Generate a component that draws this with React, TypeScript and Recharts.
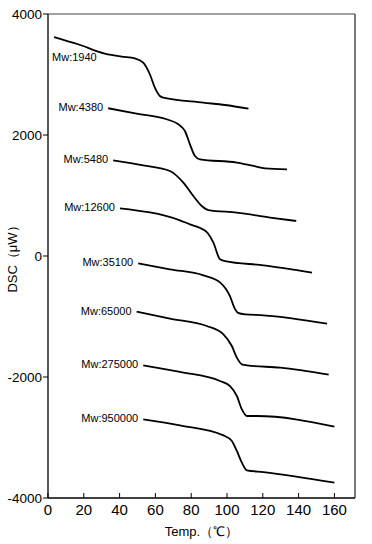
import { LineChart, Line, XAxis, YAxis, ReferenceLine } from "recharts";

// DSC traces, temperature (°C) vs heat flow (µW)
const mw1940 = [
  { t: 3.4, v: 3620 }, { t: 16.8, v: 3500 }, { t: 31.7, v: 3346 }, { t: 41.1, v: 3296 },
  { t: 48.5, v: 3268 }, { t: 53.2, v: 3197 }, { t: 56.9, v: 3004 }, { t: 59.7, v: 2784 },
  { t: 62.5, v: 2645 }, { t: 64.4, v: 2618 }, { t: 86.8, v: 2536 }, { t: 98.9, v: 2496 },
  { t: 112, v: 2436 },
];
const mw4380 = [
  { t: 33.6, v: 2442 }, { t: 49.5, v: 2354 }, { t: 66.3, v: 2260 }, { t: 72.8, v: 2177 },
  { t: 76.5, v: 2066 }, { t: 79.3, v: 1846 }, { t: 82.1, v: 1653 }, { t: 84.9, v: 1598 },
  { t: 105.5, v: 1544 }, { t: 114.8, v: 1488 }, { t: 121.3, v: 1450 }, { t: 133.5, v: 1433 },
];
const mw5480 = [
  { t: 36.4, v: 1582 }, { t: 53.2, v: 1499 }, { t: 68.1, v: 1405 }, { t: 75.6, v: 1213 },
  { t: 81.2, v: 992 }, { t: 85.9, v: 826 }, { t: 89.6, v: 760 }, { t: 105.5, v: 717 },
  { t: 124.1, v: 635 }, { t: 138.7, v: 579 },
];
const mw12600 = [
  { t: 40.2, v: 788 }, { t: 73.7, v: 590 }, { t: 79.3, v: 524 }, { t: 85, v: 462 },
  { t: 89.2, v: 380 }, { t: 92.4, v: 221 }, { t: 96.1, v: -55 }, { t: 98.9, v: -83 },
  { t: 120.4, v: -154 }, { t: 147.5, v: -274 },
];
const mw35100 = [
  { t: 50.4, v: -121 }, { t: 68.1, v: -220 }, { t: 86.8, v: -319 }, { t: 96.1, v: -435 },
  { t: 99.5, v: -550 }, { t: 101.7, v: -666 }, { t: 104, v: -848 }, { t: 106.2, v: -939 },
  { t: 110.1, v: -964 }, { t: 120.4, v: -980 }, { t: 155.9, v: -1117 },
];
const mw65000 = [
  { t: 49.5, v: -919 }, { t: 68.1, v: -1035 }, { t: 88.7, v: -1157 }, { t: 98, v: -1294 },
  { t: 102.7, v: -1488 }, { t: 105.5, v: -1680 }, { t: 108.3, v: -1790 }, { t: 111.1, v: -1807 },
  { t: 129.7, v: -1845 }, { t: 156.8, v: -1960 },
];
const mw275000 = [
  { t: 53.2, v: -1807 }, { t: 73.7, v: -1917 }, { t: 96.1, v: -2066 }, { t: 101.7, v: -2149 },
  { t: 105.5, v: -2314 }, { t: 108.3, v: -2534 }, { t: 111.1, v: -2645 }, { t: 116.7, v: -2645 },
  { t: 160, v: -2820 },
];
const mw950000 = [
  { t: 53.2, v: -2699 }, { t: 73.7, v: -2799 }, { t: 98, v: -2964 }, { t: 102.7, v: -3058 },
  { t: 105.5, v: -3223 }, { t: 108.3, v: -3415 }, { t: 111.1, v: -3542 }, { t: 120.4, v: -3571 },
  { t: 160, v: -3746 },
];

const seriesNames = ["Mw:1940", "Mw:4380", "Mw:5480", "Mw:12600", "Mw:35100", "Mw:65000", "Mw:275000", "Mw:950000"];
const seriesData = [mw1940, mw4380, mw5480, mw12600, mw35100, mw65000, mw275000, mw950000];

const xTicks = [0, 20, 40, 60, 80, 100, 120, 140, 160];
const yTicks = [-4000, -2000, 0, 2000, 4000];
const xMax = 171.5;

const FONT = "'Liberation Sans', Arial, sans-serif";

const XTick = ({ x, y, payload }: any) => (
  <g>
    <line x1={x} y1={y} x2={x} y2={y - 5} stroke="#000" strokeWidth={1} />
    <text x={x} y={y + 13} textAnchor="middle" dominantBaseline="middle" fontSize={15} fontFamily={FONT} fill="#000">
      {payload.value}
    </text>
  </g>
);

// name sits left of the trace start (first one sits underneath)
const makeLabel = (name: string, below: boolean) => (props: any) => {
  if (props.index !== 0) return null;
  return below ? (
    <text x={props.x - 2} y={props.y + 21} dominantBaseline="middle" fontSize={11} fontFamily={FONT} fill="#000">
      {name}
    </text>
  ) : (
    <text x={props.x - 5} y={props.y} textAnchor="end" dominantBaseline="middle" fontSize={11} fontFamily={FONT} fill="#000">
      {name}
    </text>
  );
};

export default function App() {
  return (
    <div style={{ position: "absolute", left: 0, top: 0, background: "#fff" }}>
      <LineChart width={372} height={544} margin={{ top: 14, right: 17, bottom: 0, left: 0 }}>
        <XAxis
          dataKey="t"
          type="number"
          domain={[0, xMax]}
          ticks={xTicks}
          height={46}
          tickSize={0}
          tickMargin={0}
          tick={<XTick />}
          axisLine={{ stroke: "#000", strokeWidth: 1.3 }}
          allowDataOverflow
          label={{ value: "Temp.（℃）", position: "insideBottom", offset: 8, fontSize: 13, fontFamily: FONT, fill: "#000" }}
        />
        <YAxis
          type="number"
          domain={[-4000, 4000]}
          ticks={yTicks}
          width={48}
          tickSize={5}
          tickMargin={1}
          tickLine={{ stroke: "#000" }}
          axisLine={{ stroke: "#000", strokeWidth: 1.3 }}
          tick={{ fontSize: 13.5, fontFamily: FONT, fill: "#000" }}
          allowDataOverflow
          label={{ value: "DSC（μW）", angle: -90, position: "insideLeft", offset: 12, style: { textAnchor: "middle" }, fontSize: 13, fontFamily: FONT, fill: "#000" }}
        />
        <ReferenceLine y={4000} stroke="#444" strokeWidth={1.2} />
        <ReferenceLine x={xMax} stroke="#222" strokeWidth={1.2} />
        {seriesData.map((d, i) => (
          <Line
            key={seriesNames[i]}
            data={d}
            dataKey="v"
            type="monotone"
            stroke="#000"
            strokeWidth={1.8}
            dot={false}
            activeDot={false}
            isAnimationActive={false}
            label={makeLabel(seriesNames[i], i === 0)}
          />
        ))}
      </LineChart>
    </div>
  );
}
